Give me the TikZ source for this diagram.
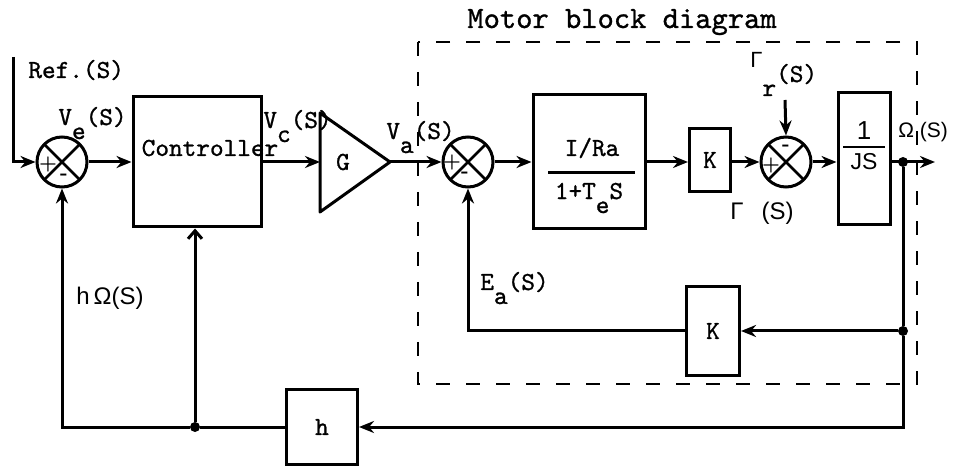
\documentclass[tikz,border=0pt]{standalone}
\usepackage{fontspec}
\newfontfamily\sansf{Liberation Sans}
\newfontfamily\typew{lmmono10-regular.otf}[FakeBold=1]
\usetikzlibrary{arrows.meta, positioning, calc}
\newcommand{\lowsub}[1]{\raisebox{-7pt}{#1}}
\tikzset{
  blk/.style={draw, line width=1.5pt, inner sep=0pt},
  sumnode/.style={circle, draw, line width=1.5pt, minimum size=25pt, inner sep=0pt,
    path picture={\draw[line width=1.3pt]
      (path picture bounding box.north west) -- (path picture bounding box.south east)
      (path picture bounding box.north east) -- (path picture bounding box.south west);}},
  sgn/.style={font=\fontsize{10}{10}\selectfont\bfseries, inner sep=0pt},
  sig/.style={font=\typew\fontsize{13}{13}\selectfont, inner sep=0pt, anchor=base west},
  wire/.style={line width=1.5pt},
  sarrow/.style={wire, -{Stealth[length=7.5pt,width=6pt]}},
  dot/.style={circle, fill, inner sep=0pt, minimum size=5pt},
  frame/.style={line width=1.3pt, dash pattern=on 7pt off 8pt},
}
\begin{document}
\begin{tikzpicture}[x=0.5pt, y=0.5pt, font=\typew\fontsize{13}{13}\selectfont]
  \useasboundingbox (0,0) rectangle (953,466);
  % motor frame
  \draw[frame] (418,424) rectangle (917,82);
  \node[sig, font=\typew\fontsize{15.5}{16}\selectfont] (title) at (467,438) {Motor block diagram};
  % forward path
  \coordinate (ref) at (13,409);
  \node[sumnode] (s1) at (62,304) {};
  \node[blk, minimum width=64pt, minimum height=65pt] (ctrl) at (197,304) {};
  \node (ctrltxt) at (210,318) {Controller};
  \coordinate (gin) at (320,304);
  \coordinate (gout) at (390,304);
  \draw[blk, line join=round] (320,353) -- (gout) -- (320,254) -- cycle;
  \node (gtxt) at (343,304) {G};
  \node[sumnode] (s2) at (468,304) {};
  \node[blk, minimum width=56pt, minimum height=67pt] (frac) at (589,304) {};
  \draw[wire] (548,293) -- (635,293);
  \node (num) at (592,318) {I/Ra};
  \node (den) at (589,268) {1+T\lowsub{e}S};
  \node[blk, minimum width=20.5pt, minimum height=31.5pt] (k1) at (710,306) {K};
  \node[sumnode] (s3) at (786,304) {};
  \coordinate (tr) at (785,366);
  \node[blk, minimum width=26pt, minimum height=66pt] (js) at (864,307) {};
  \draw[line width=1pt] (843,319) -- (885,319);
  \node[font=\sansf\fontsize{13}{13}\selectfont] (one) at (864,335) {1};
  \node[font=\sansf\fontsize{11.5}{12}\selectfont] (jstxt) at (864,304) {JS};
  \node[dot] (out) at (903,304) {};
  \coordinate (omega) at (935,304);
  % feedback blocks
  \node[dot] (fb2) at (903,135) {};
  \node[blk, minimum width=26.5pt, minimum height=44.5pt] (k2) at (713,135) {K};
  \node[blk, minimum width=35.5pt, minimum height=37pt] (h) at (322,39) {h};
  \node[dot] (fb3) at (195,39) {};
  % signs
  \node[sgn] at ($(s1)+(-14,-2)$) {+};
  \node[sgn] at ($(s1)+(2,-15)$) {-};
  \node[sgn] at ($(s2)+(-16,0)$) {+};
  \node[sgn] at ($(s2)+(-3,-13)$) {-};
  \node[sgn] at ($(s3)+(0,14)$) {-};
  \node[sgn] at ($(s3)+(-15,-3)$) {+};
  % labels
  \node[sig] (lref) at (28,388) {Ref.(S)};
  \node[sig] (lve) at (58,341) {V\lowsub{e}(S)};
  \node[sig] (lvc) at (263,338) {V\lowsub{c}(S)};
  \node[sig] (lva) at (386,327) {V\lowsub{a}(S)};
  \node[sig] (lgr) at (750,384) {\raisebox{7pt}{\fontsize{11}{11}\selectfont\sansf Γ}\lowsub{r}(S)};
  \node[sig, font=\sansf\fontsize{10.5}{12}\selectfont] (lom) at (898,328) {Ω (S)};
  \node[sig, font=\sansf\fontsize{12}{12}\selectfont] (lg) at (730,246) {Γ\hspace{9pt}(S)};
  \node[sig] (lea) at (480,176) {E\lowsub{a}(S)};
  \node[sig, font=\sansf\fontsize{12}{12}\selectfont] (lho) at (76,161) {h\,Ω(S)};
  % connectors
  \draw[sarrow] (ref) |- (s1.west);
  \draw[sarrow] (s1) -- (ctrl);
  \draw[sarrow] (ctrl) -- (gin);
  \draw[sarrow] (gout) -- (s2);
  \draw[sarrow] (s2) -- (frac);
  \draw[sarrow] (frac.east |- s2) -- (k1.west |- s2);
  \draw[sarrow] (k1.east |- s2) -- (s3);
  \draw[sarrow] (tr) -- (s3.north);
  \draw[sarrow] (s3) -- (js.west |- s3);
  \draw[sarrow] (js.east |- s3) -- (omega);
  \draw[wire] (out) -- (fb2);
  \draw[sarrow] (fb2) -- (k2.east);
  \draw[sarrow] (k2.west) -| (s2.south);
  \draw[sarrow] (fb2) |- (h.east);
  \draw[wire] (h.west) -- (fb3);
  \draw[sarrow] (fb3) -| (s1.south);
  \draw[wire, -{Straight Barb[length=4pt,width=7pt]}] (fb3) -- (fb3 |- ctrl.south);
\end{tikzpicture}
\end{document}
